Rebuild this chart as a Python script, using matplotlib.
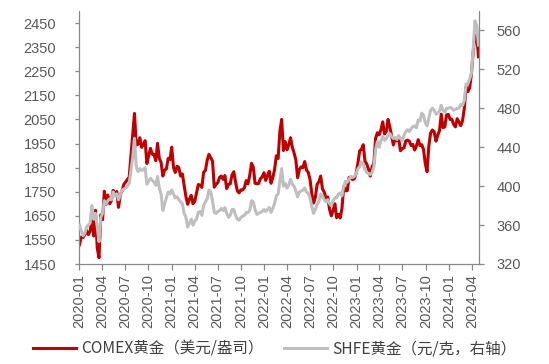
import matplotlib
matplotlib.use("Agg")
import matplotlib.pyplot as plt
import matplotlib.dates as mdates
import pandas as pd

# weekly (Friday) readings, COMEX gold USD/oz
comex_2020 = [1530, 1562, 1560, 1572, 1589,
              1572, 1586, 1644, 1566,
              1673, 1516, 1476, 1654,
              1634, 1752, 1698, 1736,
              1700, 1713, 1756, 1735, 1751,
              1685, 1737, 1753, 1781,
              1790, 1801, 1810, 1897, 1985,
              2075, 1944, 1947, 1974,
              1934, 1947, 1962, 1867,
              1900, 1930, 1906, 1905, 1879,
              1951, 1888, 1872, 1815,
              1840, 1845, 1888, 1883]
comex_2021 = [1935, 1850, 1830, 1856, 1850,
              1815, 1824, 1777, 1730,
              1698, 1720, 1735, 1700,
              1710, 1744, 1780, 1777, 1768,
              1831, 1838, 1881, 1905,
              1891, 1877, 1769, 1781,
              1788, 1810, 1815, 1801, 1817,
              1763, 1780, 1783, 1819,
              1833, 1790, 1753, 1745,
              1758, 1757, 1767, 1796, 1783,
              1818, 1868, 1852, 1785,
              1783, 1784, 1804, 1811, 1829]
comex_2022 = [1797, 1817, 1835, 1785,
              1808, 1842, 1899, 1888,
              2000, 2050, 1921, 1958,
              1924, 1945, 1974, 1934, 1911,
              1882, 1808, 1842, 1853,
              1850, 1875, 1840, 1830,
              1801, 1742, 1703, 1727, 1781,
              1791, 1815, 1762, 1749,
              1721, 1728, 1677, 1650, 1672,
              1700, 1642, 1656, 1641,
              1680, 1771, 1754, 1754,
              1809, 1810, 1800, 1804, 1826]
comex_2023 = [1869, 1920, 1926, 1945,
              1876, 1865, 1842, 1815,
              1854, 1867, 1973, 1995, 1986,
              2007, 2040, 1990, 1999,
              2050, 2019, 1981, 1944,
              1969, 1961, 1971, 1920, 1929,
              1932, 1961, 1964, 1960,
              1942, 1946, 1923, 1940,
              1966, 1942, 1945, 1925, 1866,
              1833, 1941, 1994, 2006,
              1999, 1960, 1984, 2003,
              2072, 2016, 2019, 2069, 2071]
comex_2024 = [2050, 2051, 2029, 2019,
              2053, 2039, 2024, 2045,
              2096, 2185, 2165, 2180, 2238,
              2330, 2400, 2395, 2310]

# weekly (Friday) readings, SHFE gold CNY/g
shfe_2020 = [360, 354, 349, 352, 358,
             360, 362, 380, 366,
             372, 358, 343, 368,
             372, 385, 382, 385,
             387, 386, 394, 390, 392,
             386, 391, 396, 397,
             398, 400, 403, 416, 430,
             449, 420, 415, 418,
             416, 417, 419, 402,
             405, 408, 406, 404, 401,
             410, 398, 392, 375,
             382, 388, 394, 392]
shfe_2021 = [396, 392, 388, 389, 386,
             384, 382, 372, 368,
             358, 362, 366, 360,
             364, 366, 373, 374, 370,
             380, 384, 387, 396,
             394, 385, 373, 372,
             374, 375, 377, 375, 378,
             372, 368, 370, 376,
             376, 370, 366, 365,
             368, 369, 370, 373, 373,
             375, 385, 384, 376,
             371, 372, 373, 374, 376]
shfe_2022 = [374, 376, 378, 373,
             377, 382, 390, 392,
             405, 418, 400, 403,
             398, 401, 407, 402, 400,
             395, 389, 394, 395,
             396, 398, 394, 393,
             388, 379, 372, 376, 381,
             384, 392, 390, 386,
             384, 386, 382, 380, 385,
             388, 388, 392, 393,
             390, 400, 405, 404,
             407, 410, 409, 410, 413]
shfe_2023 = [418, 420, 425, 423,
             417, 414, 413, 412,
             414, 420, 438, 446, 440,
             447, 451, 447, 449,
             452, 454, 451, 449,
             450, 448, 452, 449, 447,
             452, 456, 458, 456,
             459, 461, 462, 460,
             468, 467, 475, 473, 465,
             462, 470, 478, 480,
             478, 474, 475, 477,
             483, 478, 476, 480, 480]
shfe_2024 = [481, 480, 478, 479,
             480, 480, 484, 483,
             488, 505, 505, 510, 516,
             540, 570, 565, 545]

comex = comex_2020 + comex_2021 + comex_2022 + comex_2023 + comex_2024
shfe = shfe_2020 + shfe_2021 + shfe_2022 + shfe_2023 + shfe_2024
dates = pd.date_range("2020-01-03", "2024-04-26", freq="W-FRI")

left_ticks = list(range(1450, 2451, 100))
right_ticks = list(range(320, 561, 40))

RED = "#C00000"
GREY = "#BFBFBF"
AXC = "#898989"
TXT = "#595959"

plt.rcParams["font.family"] = ["Liberation Sans", "DejaVu Sans"]

fig = plt.figure(figsize=(5.49, 3.64), dpi=100, facecolor="white")
ax = fig.add_axes([79 / 549, 1 - 264 / 364, 400 / 549, 253 / 364])
ax2 = ax.twinx()

l1, = ax.plot(dates, comex, color=RED, lw=2.2, solid_joinstyle="round",
              label="COMEX黄金（美元/盎司）")
l2, = ax2.plot(dates, shfe, color=GREY, lw=2.2, solid_joinstyle="round",
               label="SHFE黄金（元/克，右轴）")

ax.set_xlim(pd.Timestamp("2020-01-01"), pd.Timestamp("2024-04-28"))
ax.set_ylim(1450, 2500)
ax2.set_ylim(320, 580)
ax.set_yticks(left_ticks)
ax2.set_yticks(right_ticks)

ax.xaxis.set_major_locator(mdates.MonthLocator(bymonth=[1, 4, 7, 10]))
ax.xaxis.set_major_formatter(mdates.DateFormatter("%Y-%m"))

for a in (ax, ax2):
    a.spines["top"].set_visible(False)
    for s in ("left", "right", "bottom"):
        a.spines[s].set_color(AXC)
        a.spines[s].set_linewidth(0.9)
ax.spines["right"].set_visible(False)
ax2.spines["left"].set_visible(False)
ax2.spines["bottom"].set_visible(False)

ax.tick_params(axis="y", direction="out", length=3, width=0.9, color=AXC,
               labelsize=10.5, labelcolor=TXT, pad=13.5)
ax2.tick_params(axis="y", direction="out", length=3.5, width=0.9, color=AXC,
                labelsize=10.5, labelcolor=TXT, pad=9)
ax.tick_params(axis="x", direction="out", length=4, width=0.9, color=AXC,
               labelsize=10.5, labelcolor=TXT, pad=3, labelrotation=90)

fig.legend(handles=[l1, l2], loc="lower center", bbox_to_anchor=(0.5, -0.02),
           ncol=2, frameon=False, handlelength=2.8, handletextpad=0.3,
           columnspacing=1.3,
           prop={"family": ["Noto Sans CJK SC", "DejaVu Sans"], "size": 11.2},
           labelcolor="#404040")

fig.savefig("out.png", dpi=100, facecolor="white")
